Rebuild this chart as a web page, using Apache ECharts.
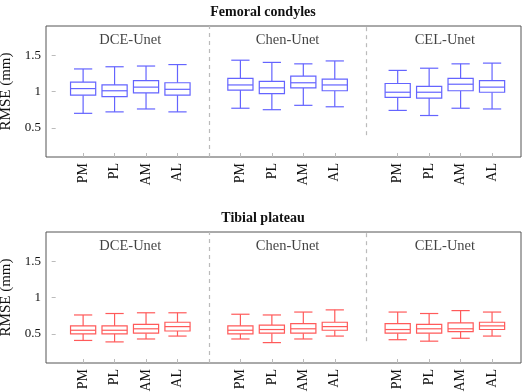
<!DOCTYPE html>
<html>
<head>
<meta charset="utf-8">
<script src="https://cdn.jsdelivr.net/npm/echarts@6/dist/echarts.min.js"></script>
<style>
  html, body { margin: 0; padding: 0; background: #fff; }
  #chart { width: 526px; height: 392px; }
</style>
</head>
<body>
<div id="chart"></div>
<script>
// models and regions
const models = ['DCE-Unet', 'Chen-Unet', 'CEL-Unet']
const modelCenters = [2.5, 7.5, 12.5]
const regions = ['PM', 'PL', 'AM', 'AL']
const positions = [1, 2, 3, 4, 6, 7, 8, 9, 11, 12, 13, 14]
const regionLabels = ['PM', 'PL', 'AM', 'AL', 'PM', 'PL', 'AM', 'AL', 'PM', 'PL', 'AM', 'AL']
const yTicks = [0.5, 1, 1.5]

// [min, q1, median, q3, max]
const femoral = [
  [0.70, 0.95, 1.04, 1.13, 1.31],
  [0.72, 0.93, 1.01, 1.09, 1.34],
  [0.76, 0.98, 1.06, 1.15, 1.35],
  [0.72, 0.95, 1.03, 1.12, 1.37],
  [0.77, 1.02, 1.09, 1.18, 1.43],
  [0.75, 0.97, 1.05, 1.14, 1.40],
  [0.81, 1.05, 1.12, 1.21, 1.38],
  [0.79, 1.01, 1.09, 1.17, 1.42],
  [0.74, 0.92, 0.99, 1.11, 1.29],
  [0.67, 0.91, 0.99, 1.07, 1.32],
  [0.77, 1.01, 1.10, 1.18, 1.38],
  [0.76, 0.99, 1.06, 1.15, 1.39]
]
const tibial = [
  [0.41, 0.50, 0.55, 0.61, 0.76],
  [0.39, 0.50, 0.55, 0.61, 0.78],
  [0.43, 0.51, 0.57, 0.63, 0.79],
  [0.47, 0.54, 0.60, 0.66, 0.79],
  [0.43, 0.50, 0.55, 0.61, 0.77],
  [0.38, 0.51, 0.56, 0.62, 0.76],
  [0.43, 0.51, 0.57, 0.64, 0.80],
  [0.47, 0.55, 0.60, 0.66, 0.83],
  [0.42, 0.51, 0.56, 0.64, 0.80],
  [0.40, 0.51, 0.57, 0.63, 0.78],
  [0.44, 0.53, 0.57, 0.65, 0.82],
  [0.47, 0.56, 0.61, 0.66, 0.80]
]

const serif = 'Liberation Serif'
const panels = [
  { title: 'Femoral condyles', data: femoral, color: '#6464ff', top: 26 },
  { title: 'Tibial plateau', data: tibial, color: '#ff5a5a', top: 232 }
]

function renderBox(params, api) {
  const x = api.value(0)
  const lo = api.coord([x, api.value(1)])
  const q1 = api.coord([x, api.value(2)])
  const md = api.coord([x, api.value(3)])
  const q3 = api.coord([x, api.value(4)])
  const hi = api.coord([x, api.value(5)])
  const unit = api.size([1, 0])[0]
  const bw = unit * 0.4
  const cw = unit * 0.29
  const style = { stroke: api.visual('color'), lineWidth: 1.2, fill: 'none' }
  const line = (x1, y1, x2, y2) => ({ type: 'line', shape: { x1, y1, x2, y2 }, style })
  return {
    type: 'group',
    children: [
      line(lo[0] - cw, lo[1], lo[0] + cw, lo[1]),
      line(hi[0] - cw, hi[1], hi[0] + cw, hi[1]),
      line(lo[0], lo[1], q1[0], q1[1]),
      line(hi[0], hi[1], q3[0], q3[1]),
      { type: 'rect', shape: { x: q3[0] - bw, y: q3[1], width: bw * 2, height: q1[1] - q3[1] }, style: { stroke: api.visual('color'), lineWidth: 1.2, fill: '#fff' } },
      line(md[0] - bw, md[1], md[0] + bw, md[1])
    ]
  }
}

const option = {
  animation: false,
  title: panels.map((p) => ({
    text: p.title,
    left: 'center',
    top: p.top - 26,
    textStyle: { fontFamily: serif, fontWeight: 'bold', fontSize: 14, color: '#111' }
  })),
  grid: panels.map((p) => ({
    left: 46, right: 5, top: p.top, height: 131,
    outerBoundsMode: 'none', containLabel: false,
    show: true, borderColor: '#555', borderWidth: 1, backgroundColor: 'transparent'
  })),
  xAxis: panels.map((p, i) => ({
    type: 'value', gridIndex: i, min: -0.18, max: 14.92,
    splitLine: { show: false },
    axisLine: { show: false },
    axisTick: { customValues: positions, inside: true, length: 4, lineStyle: { color: '#bbb' } },
    axisLabel: {
      customValues: positions, rotate: 90, margin: 6,
      fontFamily: serif, fontSize: 14, color: '#111',
      formatter: (v) => regionLabels[positions.indexOf(v)] || ''
    }
  })),
  yAxis: panels.map((p, i) => ({
    type: 'value', gridIndex: i, min: 0.1, max: 1.9,
    name: 'RMSE (mm)', nameLocation: 'middle', nameGap: 30,
    nameTextStyle: { fontFamily: serif, fontSize: 15, color: '#111' },
    splitLine: { show: false },
    axisLine: { show: false },
    axisTick: { customValues: yTicks, inside: true, length: 4, lineStyle: { color: '#bbb' } },
    axisLabel: { customValues: yTicks, margin: 5, fontFamily: serif, fontSize: 13, color: '#111', formatter: (v) => String(v) }
  })),
  series: []
}

panels.forEach((p, i) => {
  option.series.push({
    type: 'custom',
    xAxisIndex: i, yAxisIndex: i,
    itemStyle: { color: p.color },
    renderItem: renderBox,
    encode: { x: 0, y: [1, 2, 3, 4, 5] },
    data: p.data.map((d, k) => [positions[k]].concat(d)),
    markLine: {
      silent: true, symbol: 'none',
      label: { show: false },
      lineStyle: { color: '#bbb', type: [4, 4], width: 1.2 },
      data: [
        [{ coord: [5, 0.1] }, { coord: [5, 1.9] }],
        [{ coord: [10, 0.4] }, { coord: [10, 1.9] }]
      ]
    }
  })
  option.series.push({
    type: 'scatter',
    xAxisIndex: i, yAxisIndex: i,
    symbolSize: 0, silent: true,
    data: models.map((m, k) => ({ name: m, value: [modelCenters[k], 1.7] })),
    label: {
      show: true, position: 'inside', formatter: '{b}',
      fontFamily: serif, fontSize: 14.5, color: '#111'
    }
  })
})

const chart = echarts.init(document.getElementById('chart'))
chart.setOption(option)
window.addEventListener('resize', () => {
  chart.resize()
})
</script>
</body>
</html>
